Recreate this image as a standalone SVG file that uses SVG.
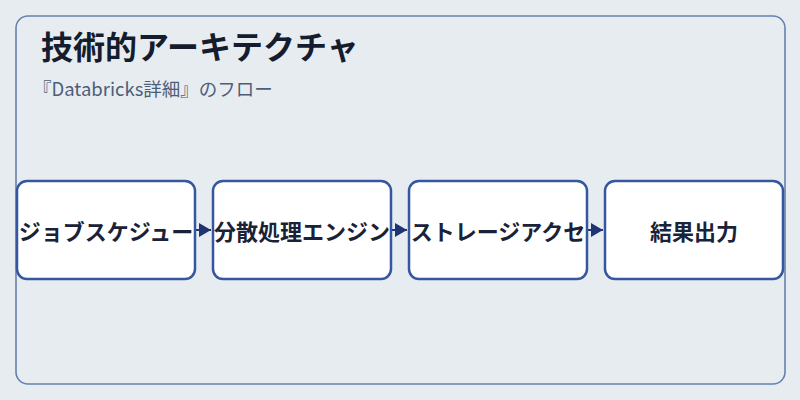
<svg xmlns="http://www.w3.org/2000/svg" width="800" height="400" viewBox="0 0 800 400">
<style>
.node rect{fill:#ffffff;stroke:#3557a0;stroke-width:2.5}
.node text{font-family:"Noto Sans CJK JP","Noto Sans",sans-serif;font-size:22px;font-weight:bold;fill:#1a2238;text-anchor:middle;dominant-baseline:central}
.conn line{stroke:#1f3470;stroke-width:2}
</style>
<defs>
<marker id="arr" viewBox="0 0 12 14" refX="12" refY="7" markerWidth="12" markerHeight="14" markerUnits="userSpaceOnUse" orient="auto">
<path d="M0,0 L12,7 L0,14 Z" fill="#1f3470"/>
</marker>
</defs>
<rect width="800" height="400" fill="#e7ecf1"/>
<rect id="frame" x="16" y="16" width="769" height="368" rx="12" fill="#e7ecf1" stroke="#6680b0" stroke-width="1.6"/>
<text x="41" y="59" font-family="Noto Sans CJK JP, Noto Sans, sans-serif" font-size="32" font-weight="bold" fill="#141c2e">技術的アーキテクチャ</text>
<text x="33" y="96" font-family="Noto Sans CJK JP, Noto Sans, sans-serif" font-size="18.5" fill="#4e5d78">『Databricks詳細』のフロー</text>
<g class="conn">
<line x1="196" y1="230" x2="211" y2="230" marker-end="url(#arr)"/>
<line x1="392" y1="230" x2="407" y2="230" marker-end="url(#arr)"/>
<line x1="588" y1="230" x2="603" y2="230" marker-end="url(#arr)"/>
</g>
<g id="node1" class="node"><rect x="17" y="181" width="178" height="98" rx="10"/><text x="106" y="230">ジョブスケジュー</text></g>
<g id="node2" class="node"><rect x="213" y="181" width="178" height="98" rx="10"/><text x="302" y="230">分散処理エンジン</text></g>
<g id="node3" class="node"><rect x="409" y="181" width="178" height="98" rx="10"/><text x="498" y="230">ストレージアクセ</text></g>
<g id="node4" class="node"><rect x="605" y="181" width="178" height="98" rx="10"/><text x="694" y="230">結果出力</text></g>
</svg>
